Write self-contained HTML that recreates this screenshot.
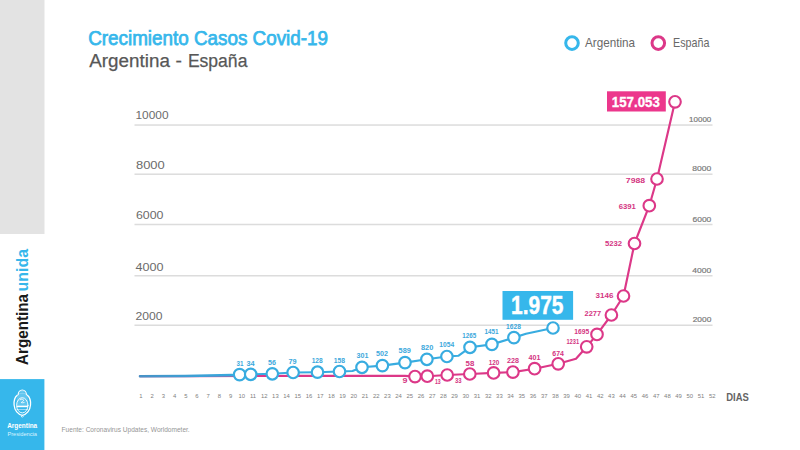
<!DOCTYPE html>
<html><head><meta charset="utf-8"><title>Crecimiento Casos Covid-19</title>
<style>
html,body{margin:0;padding:0;background:#fff;width:800px;height:450px;overflow:hidden;font-family:"Liberation Sans",sans-serif;}
svg{display:block;}
</style></head><body>
<svg width="800" height="450" viewBox="0 0 800 450" font-family="'Liberation Sans', sans-serif">

<rect x="0" y="0" width="44.5" height="234" fill="#e3e3e3"/>
<rect x="0" y="379.1" width="44.4" height="71" fill="#36b7eb"/>
<g transform="translate(28,365) rotate(-90)"><text x="0" y="0" font-size="16.5" font-weight="bold" fill="#1a1a1a" textLength="71" lengthAdjust="spacingAndGlyphs">Argentina</text><text x="73.6" y="0" font-size="16.5" font-weight="bold" fill="#36b7eb" textLength="42.4" lengthAdjust="spacingAndGlyphs">unida</text></g>
<g fill="none" stroke="#fff" stroke-linecap="round">
<path d="M18.2 394.6 A4.1 4.6 0 0 1 26.4 394.6" stroke-width="1.2"/>
<path d="M19.4 393.2 L25.2 393.2 M19.8 391.6 L24.8 391.6" stroke-width="0.5" stroke-opacity="0.6"/>
<path d="M17.2 395.2 C14.4 397.5 13.8 401.5 14.1 405 C14.5 410.5 18 414.6 22.3 415.4 C26.6 414.6 30.1 410.5 30.5 405 C30.8 401.5 30.2 397.5 27.4 395.2" stroke-width="1.3"/>
<ellipse cx="22.3" cy="405.3" rx="5.7" ry="7.6" stroke-width="0.9"/>
<path d="M20.2 399.6 q2.1 -1.6 3.6 0.6 q-1.2 1.4 -2.6 2.4 q1.5 0.4 2.9 0" stroke-width="0.8"/>
<path d="M16.8 409.5 H27.8" stroke-width="0.7" stroke-opacity="0.7"/>
<path d="M21.2 416.2 L22.3 417.3 L23.4 416.2" stroke-width="0.8"/>
</g>
<path d="M16.7 398.5 A5.7 7.6 0 0 1 27.9 398.5 L28 405.5 H16.6 Z" fill="#fff" fill-opacity="0.22"/>
<rect x="16.7" y="405.6" width="11.2" height="1.6" fill="#fff"/>

<text x="7.2" y="427.9" font-size="6.7" font-weight="bold" fill="#fff" textLength="30" lengthAdjust="spacingAndGlyphs">Argentina</text>
<text x="7.4" y="436.1" font-size="5.7" fill="#d8f3ff" textLength="29.6" lengthAdjust="spacingAndGlyphs">Presidencia</text>
<text x="88.2" y="44.7" font-size="19.8" fill="#36b7eb" stroke="#36b7eb" stroke-width="0.75" textLength="239.8" lengthAdjust="spacingAndGlyphs">Crecimiento Casos Covid-19</text>
<g font-size="18.8" fill="#575757" stroke="#575757" stroke-width="0.25"><text x="89.3" y="67.4" textLength="80.6" lengthAdjust="spacingAndGlyphs">Argentina</text><text x="175.6" y="67.4" textLength="6.4" lengthAdjust="spacingAndGlyphs">-</text><text x="187.9" y="67.4" textLength="59.5" lengthAdjust="spacingAndGlyphs">España</text></g>
<circle cx="572" cy="43.1" r="6.3" fill="#fff" stroke="#36b7eb" stroke-width="3"/>
<text x="585" y="46.6" font-size="12.1" fill="#686868" textLength="50" lengthAdjust="spacingAndGlyphs">Argentina</text>
<circle cx="658.3" cy="43.1" r="6.3" fill="#fff" stroke="#dc3888" stroke-width="3"/>
<text x="673" y="46.6" font-size="12.1" fill="#686868" textLength="36.4" lengthAdjust="spacingAndGlyphs">España</text>
<rect x="134.5" y="124.30" width="578" height="1.5" fill="#dcdcdc"/>
<text x="135.50" y="118.65" font-size="11.1" fill="#6b6b6b" textLength="33.00" lengthAdjust="spacingAndGlyphs">10000</text>
<text x="689.10" y="121.50" font-size="7.6" fill="#7a7a7a" stroke="#7a7a7a" stroke-width="0.2" textLength="22.20" lengthAdjust="spacingAndGlyphs">10000</text>
<rect x="134.5" y="173.45" width="578" height="1.5" fill="#dcdcdc"/>
<text x="136.00" y="168.65" font-size="11.1" fill="#6b6b6b" textLength="28.75" lengthAdjust="spacingAndGlyphs">8000</text>
<text x="692.30" y="170.60" font-size="7.6" fill="#7a7a7a" stroke="#7a7a7a" stroke-width="0.2" textLength="19.00" lengthAdjust="spacingAndGlyphs">8000</text>
<rect x="134.5" y="223.75" width="578" height="1.5" fill="#dcdcdc"/>
<text x="136.00" y="219.15" font-size="11.1" fill="#6b6b6b" textLength="27.50" lengthAdjust="spacingAndGlyphs">6000</text>
<text x="692.50" y="221.50" font-size="7.6" fill="#7a7a7a" stroke="#7a7a7a" stroke-width="0.2" textLength="18.80" lengthAdjust="spacingAndGlyphs">6000</text>
<rect x="134.5" y="275.00" width="578" height="1.5" fill="#dcdcdc"/>
<text x="135.50" y="270.90" font-size="11.1" fill="#6b6b6b" textLength="28.00" lengthAdjust="spacingAndGlyphs">4000</text>
<text x="692.30" y="272.60" font-size="7.6" fill="#7a7a7a" stroke="#7a7a7a" stroke-width="0.2" textLength="19.00" lengthAdjust="spacingAndGlyphs">4000</text>
<rect x="134.5" y="324.50" width="578" height="1.5" fill="#dcdcdc"/>
<text x="135.50" y="319.90" font-size="11.1" fill="#6b6b6b" textLength="27.00" lengthAdjust="spacingAndGlyphs">2000</text>
<text x="692.70" y="321.50" font-size="7.6" fill="#7a7a7a" stroke="#7a7a7a" stroke-width="0.2" textLength="18.60" lengthAdjust="spacingAndGlyphs">2000</text>
<text x="141.0" y="397.9" font-size="5.9" fill="#808080" text-anchor="middle">1</text>
<text x="152.2" y="397.9" font-size="5.9" fill="#808080" text-anchor="middle">2</text>
<text x="163.4" y="397.9" font-size="5.9" fill="#808080" text-anchor="middle">3</text>
<text x="174.6" y="397.9" font-size="5.9" fill="#808080" text-anchor="middle">4</text>
<text x="185.8" y="397.9" font-size="5.9" fill="#808080" text-anchor="middle">5</text>
<text x="197.0" y="397.9" font-size="5.9" fill="#808080" text-anchor="middle">6</text>
<text x="208.2" y="397.9" font-size="5.9" fill="#808080" text-anchor="middle">7</text>
<text x="219.4" y="397.9" font-size="5.9" fill="#808080" text-anchor="middle">8</text>
<text x="230.6" y="397.9" font-size="5.9" fill="#808080" text-anchor="middle">9</text>
<text x="241.8" y="397.9" font-size="5.9" fill="#808080" text-anchor="middle">10</text>
<text x="253.0" y="397.9" font-size="5.9" fill="#808080" text-anchor="middle">11</text>
<text x="264.2" y="397.9" font-size="5.9" fill="#808080" text-anchor="middle">12</text>
<text x="275.4" y="397.9" font-size="5.9" fill="#808080" text-anchor="middle">13</text>
<text x="286.6" y="397.9" font-size="5.9" fill="#808080" text-anchor="middle">14</text>
<text x="297.8" y="397.9" font-size="5.9" fill="#808080" text-anchor="middle">15</text>
<text x="309.0" y="397.9" font-size="5.9" fill="#808080" text-anchor="middle">16</text>
<text x="320.2" y="397.9" font-size="5.9" fill="#808080" text-anchor="middle">17</text>
<text x="331.4" y="397.9" font-size="5.9" fill="#808080" text-anchor="middle">18</text>
<text x="342.6" y="397.9" font-size="5.9" fill="#808080" text-anchor="middle">19</text>
<text x="353.8" y="397.9" font-size="5.9" fill="#808080" text-anchor="middle">20</text>
<text x="365.0" y="397.9" font-size="5.9" fill="#808080" text-anchor="middle">21</text>
<text x="376.2" y="397.9" font-size="5.9" fill="#808080" text-anchor="middle">22</text>
<text x="387.4" y="397.9" font-size="5.9" fill="#808080" text-anchor="middle">23</text>
<text x="398.6" y="397.9" font-size="5.9" fill="#808080" text-anchor="middle">24</text>
<text x="409.8" y="397.9" font-size="5.9" fill="#808080" text-anchor="middle">25</text>
<text x="421.0" y="397.9" font-size="5.9" fill="#808080" text-anchor="middle">26</text>
<text x="432.2" y="397.9" font-size="5.9" fill="#808080" text-anchor="middle">27</text>
<text x="443.4" y="397.9" font-size="5.9" fill="#808080" text-anchor="middle">28</text>
<text x="454.6" y="397.9" font-size="5.9" fill="#808080" text-anchor="middle">29</text>
<text x="465.8" y="397.9" font-size="5.9" fill="#808080" text-anchor="middle">30</text>
<text x="477.0" y="397.9" font-size="5.9" fill="#808080" text-anchor="middle">31</text>
<text x="488.2" y="397.9" font-size="5.9" fill="#808080" text-anchor="middle">32</text>
<text x="499.4" y="397.9" font-size="5.9" fill="#808080" text-anchor="middle">33</text>
<text x="510.6" y="397.9" font-size="5.9" fill="#808080" text-anchor="middle">34</text>
<text x="521.8" y="397.9" font-size="5.9" fill="#808080" text-anchor="middle">35</text>
<text x="533.0" y="397.9" font-size="5.9" fill="#808080" text-anchor="middle">36</text>
<text x="544.2" y="397.9" font-size="5.9" fill="#808080" text-anchor="middle">37</text>
<text x="555.4" y="397.9" font-size="5.9" fill="#808080" text-anchor="middle">38</text>
<text x="566.6" y="397.9" font-size="5.9" fill="#808080" text-anchor="middle">39</text>
<text x="577.8" y="397.9" font-size="5.9" fill="#808080" text-anchor="middle">40</text>
<text x="589.0" y="397.9" font-size="5.9" fill="#808080" text-anchor="middle">41</text>
<text x="600.2" y="397.9" font-size="5.9" fill="#808080" text-anchor="middle">42</text>
<text x="611.4" y="397.9" font-size="5.9" fill="#808080" text-anchor="middle">43</text>
<text x="622.6" y="397.9" font-size="5.9" fill="#808080" text-anchor="middle">44</text>
<text x="633.8" y="397.9" font-size="5.9" fill="#808080" text-anchor="middle">45</text>
<text x="645.0" y="397.9" font-size="5.9" fill="#808080" text-anchor="middle">46</text>
<text x="656.2" y="397.9" font-size="5.9" fill="#808080" text-anchor="middle">47</text>
<text x="667.4" y="397.9" font-size="5.9" fill="#808080" text-anchor="middle">48</text>
<text x="678.6" y="397.9" font-size="5.9" fill="#808080" text-anchor="middle">49</text>
<text x="689.8" y="397.9" font-size="5.9" fill="#808080" text-anchor="middle">50</text>
<text x="701.0" y="397.9" font-size="5.9" fill="#808080" text-anchor="middle">51</text>
<text x="712.2" y="397.9" font-size="5.9" fill="#808080" text-anchor="middle">52</text>
<text x="726.2" y="400.5" font-size="10" font-weight="bold" fill="#646464" textLength="22.6" lengthAdjust="spacingAndGlyphs">DIAS</text>
<text x="61.6" y="432.2" font-size="6.5" fill="#959595" textLength="128.1" lengthAdjust="spacingAndGlyphs">Fuente: Coronavirus Updates, Worldometer.</text>
<path d="M140.0 376.2 L190.0 376.1 L300.0 375.9 L405.0 375.9 L415.0 376.6 L427.3 376.2 L447.2 375.0 L469.8 374.0 L493.6 372.9 L512.9 372.1 L534.6 368.7 L558.2 363.8 L576.0 358.8 L586.7 346.8 L597.0 334.4 L611.4 315.0 L623.5 296.0 L634.5 243.5 L649.3 205.7 L657.0 179.0 L675.0 101.8" fill="none" stroke="#dc3888" stroke-width="2.15" stroke-linejoin="round" stroke-linecap="round"/>
<defs><linearGradient id="bg1" gradientUnits="userSpaceOnUse" x1="140" y1="0" x2="232" y2="0"><stop offset="0" stop-color="#4892c6"/><stop offset="0.45" stop-color="#3f9dd2"/><stop offset="1" stop-color="#38a8dd"/></linearGradient></defs>
<path d="M140 376.2 L185 376 L232 375.1" fill="none" stroke="url(#bg1)" stroke-width="2.6" stroke-linejoin="round" stroke-linecap="round"/>
<path d="M232.0 375.1 L239.6 374.6 L250.7 374.3 L272.3 373.8 L293.1 372.5 L317.5 372.2 L339.5 371.5 L352.5 371.0 L362.0 367.3 L382.4 365.6 L405.0 362.6 L426.9 359.3 L446.9 356.5 L458.3 355.8 L470.0 347.3 L491.9 344.4 L513.9 337.6 L526.0 333.8 L553.0 328.0" fill="none" stroke="#38ace0" stroke-width="2.15" stroke-linejoin="round" stroke-linecap="round"/>
<circle cx="415" cy="376.6" r="5.8" fill="#fff" stroke="#dc3888" stroke-width="2.1"/>
<circle cx="427.3" cy="376.2" r="5.8" fill="#fff" stroke="#dc3888" stroke-width="2.1"/>
<circle cx="447.2" cy="375" r="5.8" fill="#fff" stroke="#dc3888" stroke-width="2.1"/>
<circle cx="469.8" cy="374" r="5.8" fill="#fff" stroke="#dc3888" stroke-width="2.1"/>
<circle cx="493.6" cy="372.9" r="5.8" fill="#fff" stroke="#dc3888" stroke-width="2.1"/>
<circle cx="512.9" cy="372.1" r="5.8" fill="#fff" stroke="#dc3888" stroke-width="2.1"/>
<circle cx="534.6" cy="368.7" r="5.8" fill="#fff" stroke="#dc3888" stroke-width="2.1"/>
<circle cx="558.2" cy="363.8" r="5.8" fill="#fff" stroke="#dc3888" stroke-width="2.1"/>
<circle cx="586.7" cy="346.8" r="5.8" fill="#fff" stroke="#dc3888" stroke-width="2.1"/>
<circle cx="597" cy="334.4" r="5.8" fill="#fff" stroke="#dc3888" stroke-width="2.1"/>
<circle cx="611.4" cy="315" r="5.8" fill="#fff" stroke="#dc3888" stroke-width="2.1"/>
<circle cx="623.5" cy="296" r="5.8" fill="#fff" stroke="#dc3888" stroke-width="2.1"/>
<circle cx="634.5" cy="243.5" r="5.8" fill="#fff" stroke="#dc3888" stroke-width="2.1"/>
<circle cx="649.3" cy="205.7" r="5.8" fill="#fff" stroke="#dc3888" stroke-width="2.1"/>
<circle cx="657" cy="179" r="5.8" fill="#fff" stroke="#dc3888" stroke-width="2.1"/>
<circle cx="675" cy="101.8" r="5.8" fill="#fff" stroke="#dc3888" stroke-width="2.1"/>
<circle cx="239.6" cy="374.6" r="5.75" fill="#fff" stroke="#38ace0" stroke-width="2.2"/>
<circle cx="250.7" cy="374.3" r="5.75" fill="#fff" stroke="#38ace0" stroke-width="2.2"/>
<circle cx="272.3" cy="373.8" r="5.75" fill="#fff" stroke="#38ace0" stroke-width="2.2"/>
<circle cx="293.1" cy="372.5" r="5.75" fill="#fff" stroke="#38ace0" stroke-width="2.2"/>
<circle cx="317.5" cy="372.2" r="5.75" fill="#fff" stroke="#38ace0" stroke-width="2.2"/>
<circle cx="339.5" cy="371.5" r="5.75" fill="#fff" stroke="#38ace0" stroke-width="2.2"/>
<circle cx="362" cy="367.3" r="5.75" fill="#fff" stroke="#38ace0" stroke-width="2.2"/>
<circle cx="382.4" cy="365.6" r="5.75" fill="#fff" stroke="#38ace0" stroke-width="2.2"/>
<circle cx="405" cy="362.6" r="5.75" fill="#fff" stroke="#38ace0" stroke-width="2.2"/>
<circle cx="426.9" cy="359.3" r="5.75" fill="#fff" stroke="#38ace0" stroke-width="2.2"/>
<circle cx="446.9" cy="356.5" r="5.75" fill="#fff" stroke="#38ace0" stroke-width="2.2"/>
<circle cx="470" cy="347.3" r="5.75" fill="#fff" stroke="#38ace0" stroke-width="2.2"/>
<circle cx="491.9" cy="344.4" r="5.75" fill="#fff" stroke="#38ace0" stroke-width="2.2"/>
<circle cx="513.9" cy="337.6" r="5.75" fill="#fff" stroke="#38ace0" stroke-width="2.2"/>
<circle cx="553" cy="328" r="5.75" fill="#fff" stroke="#38ace0" stroke-width="2.2"/>
<text x="236.54" y="366.40" font-size="6.6" font-weight="bold" fill="#3da8dc" textLength="6.93" lengthAdjust="spacingAndGlyphs">31</text>
<text x="246.44" y="365.70" font-size="6.6" font-weight="bold" fill="#3da8dc" textLength="8.13" lengthAdjust="spacingAndGlyphs">34</text>
<text x="268.04" y="364.60" font-size="6.6" font-weight="bold" fill="#3da8dc" textLength="7.93" lengthAdjust="spacingAndGlyphs">56</text>
<text x="288.44" y="363.70" font-size="6.6" font-weight="bold" fill="#3da8dc" textLength="8.13" lengthAdjust="spacingAndGlyphs">79</text>
<text x="311.64" y="362.90" font-size="6.6" font-weight="bold" fill="#3da8dc" textLength="11.03" lengthAdjust="spacingAndGlyphs">128</text>
<text x="333.84" y="362.60" font-size="6.6" font-weight="bold" fill="#3da8dc" textLength="11.33" lengthAdjust="spacingAndGlyphs">158</text>
<text x="356.54" y="357.90" font-size="6.6" font-weight="bold" fill="#3da8dc" textLength="11.93" lengthAdjust="spacingAndGlyphs">301</text>
<text x="376.14" y="356.00" font-size="6.6" font-weight="bold" fill="#3da8dc" textLength="11.93" lengthAdjust="spacingAndGlyphs">502</text>
<text x="398.64" y="352.60" font-size="6.6" font-weight="bold" fill="#3da8dc" textLength="12.23" lengthAdjust="spacingAndGlyphs">589</text>
<text x="420.94" y="350.20" font-size="6.6" font-weight="bold" fill="#3da8dc" textLength="12.33" lengthAdjust="spacingAndGlyphs">820</text>
<text x="439.34" y="347.20" font-size="6.6" font-weight="bold" fill="#3da8dc" textLength="14.83" lengthAdjust="spacingAndGlyphs">1054</text>
<text x="462.24" y="338.30" font-size="6.6" font-weight="bold" fill="#3da8dc" textLength="13.93" lengthAdjust="spacingAndGlyphs">1265</text>
<text x="484.54" y="333.80" font-size="6.6" font-weight="bold" fill="#3da8dc" textLength="13.93" lengthAdjust="spacingAndGlyphs">1451</text>
<text x="506.14" y="328.90" font-size="6.6" font-weight="bold" fill="#3da8dc" textLength="14.73" lengthAdjust="spacingAndGlyphs">1628</text>
<text x="402.54" y="383.40" font-size="6.6" font-weight="bold" fill="#d43582" textLength="4.93" lengthAdjust="spacingAndGlyphs">9</text>
<text x="434.94" y="384.20" font-size="6.6" font-weight="bold" fill="#d43582" textLength="5.73" lengthAdjust="spacingAndGlyphs">13</text>
<text x="455.04" y="383.00" font-size="6.6" font-weight="bold" fill="#d43582" textLength="6.63" lengthAdjust="spacingAndGlyphs">33</text>
<text x="465.64" y="366.40" font-size="6.6" font-weight="bold" fill="#d43582" textLength="8.73" lengthAdjust="spacingAndGlyphs">58</text>
<text x="488.64" y="364.70" font-size="6.6" font-weight="bold" fill="#d43582" textLength="10.63" lengthAdjust="spacingAndGlyphs">120</text>
<text x="507.04" y="363.10" font-size="6.6" font-weight="bold" fill="#d43582" textLength="11.93" lengthAdjust="spacingAndGlyphs">228</text>
<text x="528.44" y="360.20" font-size="6.6" font-weight="bold" fill="#d43582" textLength="11.93" lengthAdjust="spacingAndGlyphs">401</text>
<text x="552.34" y="356.30" font-size="6.6" font-weight="bold" fill="#d43582" textLength="11.63" lengthAdjust="spacingAndGlyphs">674</text>
<text x="566.44" y="343.60" font-size="6.6" font-weight="bold" fill="#d43582" textLength="12.73" lengthAdjust="spacingAndGlyphs">1231</text>
<text x="574.24" y="333.60" font-size="6.6" font-weight="bold" fill="#d43582" textLength="14.93" lengthAdjust="spacingAndGlyphs">1695</text>
<text x="584.58" y="315.60" font-size="8.0" font-weight="bold" fill="#d43582" textLength="16.54" lengthAdjust="spacingAndGlyphs">2277</text>
<text x="595.58" y="297.80" font-size="8.0" font-weight="bold" fill="#d43582" textLength="17.84" lengthAdjust="spacingAndGlyphs">3146</text>
<text x="604.88" y="245.50" font-size="8.0" font-weight="bold" fill="#d43582" textLength="17.14" lengthAdjust="spacingAndGlyphs">5232</text>
<text x="618.68" y="208.50" font-size="8.0" font-weight="bold" fill="#d43582" textLength="17.14" lengthAdjust="spacingAndGlyphs">6391</text>
<text x="625.88" y="182.50" font-size="8.0" font-weight="bold" fill="#d43582" textLength="19.24" lengthAdjust="spacingAndGlyphs">7988</text>
<rect x="502.5" y="291" width="70.6" height="28.8" fill="#36b7eb"/>
<text x="511.1" y="314.1" font-size="25" font-weight="bold" fill="#fff" stroke="#fff" stroke-width="0.45" textLength="52.4" lengthAdjust="spacingAndGlyphs">1.975</text>
<rect x="607" y="91.3" width="58.8" height="20.2" fill="#ec378c"/>
<text x="611.8" y="107.1" font-size="14.3" font-weight="bold" fill="#fff" stroke="#fff" stroke-width="0.3" textLength="48" lengthAdjust="spacingAndGlyphs">157.053</text>
</svg>
</body></html>
